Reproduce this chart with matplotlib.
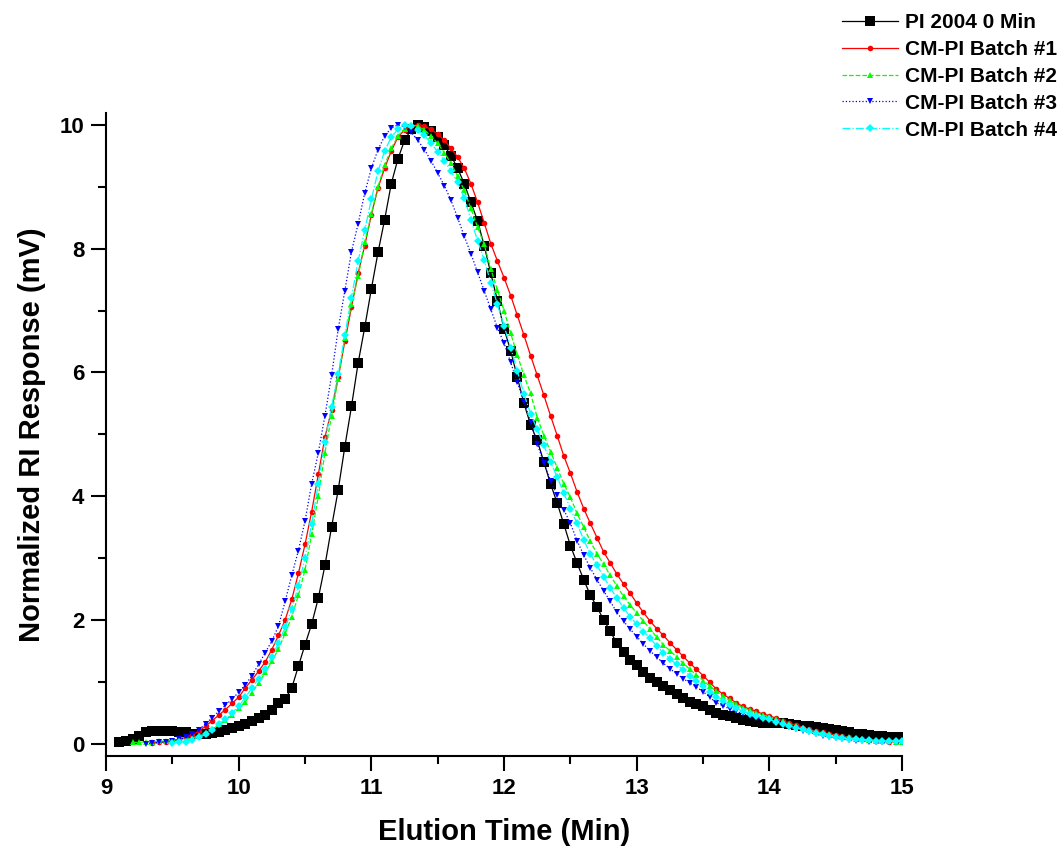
import numpy as np
import matplotlib.pyplot as plt
from matplotlib.ticker import MultipleLocator

plt.rcParams["font.family"] = ["Liberation Sans", "DejaVu Sans"]
plt.rcParams["font.weight"] = "bold"

nan = np.nan

# elution time grid (min), every 0.05 min
time_min = np.round(np.arange(9.1, 15.001, 0.05), 2)

# normalized RI response (mV)
pi_2004 = [
    # 9.10 - 10.00
    0.03, 0.05, 0.08, 0.13, 0.18, 0.2, 0.21, 0.2, 0.2, 0.19,
    0.18, 0.16, 0.15, 0.15, 0.17, 0.19, 0.22, 0.25, 0.28,
    # 10.05 - 13.00
    0.32, 0.36, 0.41, 0.47, 0.55, 0.65, 0.72, 0.9, 1.25, 1.6,
    1.93, 2.35, 2.88, 3.5, 4.1, 4.8, 5.45, 6.15, 6.73, 7.35,
    7.94, 8.47, 9.05, 9.45, 9.75, 9.93, 10.0, 9.97, 9.9, 9.8,
    9.67, 9.5, 9.3, 9.05, 8.75, 8.45, 8.05, 7.6, 7.16, 6.7,
    6.35, 5.92, 5.5, 5.15, 4.9, 4.55, 4.2, 3.89, 3.55, 3.2,
    2.92, 2.65, 2.4, 2.21, 2.0, 1.82, 1.62, 1.48, 1.35, 1.27,
    # 13.05 - 15.00
    1.16, 1.06, 0.99, 0.93, 0.86, 0.8, 0.74, 0.68, 0.64, 0.6,
    0.55, 0.5, 0.47, 0.44, 0.41, 0.38, 0.36, 0.35, 0.34, 0.34,
    0.33, 0.33, 0.31, 0.3, 0.29, 0.28, 0.27, 0.26, 0.24, 0.22,
    0.2, 0.18, 0.16, 0.15, 0.14, 0.13, 0.12, 0.11, 0.1, 0.1,
]
batch_1 = [
    nan, nan, nan, nan, nan, 0.01, 0.02, 0.03, 0.05, 0.07,
    0.1, 0.14, 0.2, 0.28, 0.37, 0.46, 0.55, 0.65, 0.75,
    0.9, 1.03, 1.17, 1.32, 1.52, 1.75, 2.0, 2.33, 2.75, 3.22,
    3.75, 4.35, 4.95, 5.4, 5.92, 6.5, 7.05, 7.6, 8.05, 8.55,
    8.98, 9.3, 9.58, 9.8, 9.92, 9.98, 10.0, 9.98, 9.93, 9.85,
    9.75, 9.62, 9.48, 9.3, 9.05, 8.75, 8.42, 8.08, 7.8, 7.53,
    7.24, 6.92, 6.6, 6.27, 5.95, 5.63, 5.3, 4.98, 4.65, 4.37,
    4.07, 3.8, 3.56, 3.33, 3.1, 2.92, 2.74, 2.58, 2.43, 2.27,
    2.12, 1.98, 1.86, 1.75, 1.63, 1.52, 1.41, 1.3, 1.2, 1.1,
    0.99, 0.88, 0.8, 0.73, 0.66, 0.6, 0.56, 0.52, 0.48, 0.45,
    0.41, 0.37, 0.33, 0.3, 0.26, 0.23, 0.2, 0.18, 0.16, 0.14,
    0.12, 0.1, 0.08, 0.07, 0.06, 0.05, 0.04, 0.03, 0.03, 0.02,
]
batch_2 = [
    nan, nan, 0.02, 0.02, 0.03, 0.03, 0.04, 0.04, 0.05, 0.06,
    0.07, 0.09, 0.12, 0.17, 0.24, 0.31, 0.38, 0.47, 0.57,
    0.68, 0.82, 0.98, 1.15, 1.33, 1.53, 1.78, 2.05, 2.4, 2.81,
    3.38, 4.0, 4.7, 5.3, 5.9, 6.55, 7.1, 7.55, 8.1, 8.56,
    9.0, 9.35, 9.62, 9.82, 9.94, 10.0, 9.98, 9.92, 9.82, 9.7,
    9.55, 9.38, 9.17, 8.94, 8.65, 8.35, 8.07, 7.67, 7.33, 7.0,
    6.63, 6.28, 5.95, 5.66, 5.27, 4.98, 4.72, 4.46, 4.2, 3.98,
    3.72, 3.5, 3.27, 3.07, 2.9, 2.72, 2.55, 2.38, 2.24, 2.11,
    1.98, 1.85, 1.72, 1.6, 1.5, 1.4, 1.3, 1.2, 1.11, 1.02,
    0.93, 0.85, 0.77, 0.7, 0.64, 0.58, 0.54, 0.5, 0.46, 0.43,
    0.39, 0.36, 0.32, 0.29, 0.25, 0.22, 0.19, 0.17, 0.15, 0.13,
    0.11, 0.1, 0.08, 0.07, 0.06, 0.05, 0.04, 0.04, 0.03, 0.03,
]
batch_3 = [
    nan, nan, nan, nan, 0.0, 0.01, 0.02, 0.03, 0.04, 0.07,
    0.1, 0.15, 0.22, 0.32, 0.42, 0.52, 0.62, 0.72, 0.83,
    0.95, 1.1, 1.28, 1.47, 1.66, 1.9, 2.3, 2.72, 3.12, 3.6,
    4.2, 4.7, 5.3, 5.95, 6.7, 7.32, 7.95, 8.4, 8.9, 9.3,
    9.6, 9.82, 9.95, 10.0, 9.97, 9.88, 9.75, 9.6, 9.42, 9.22,
    9.02, 8.78, 8.5, 8.2, 7.92, 7.62, 7.32, 7.02, 6.72, 6.47,
    6.16, 5.84, 5.52, 5.2, 4.85, 4.53, 4.25, 4.02, 3.78, 3.56,
    3.28, 3.05, 2.84, 2.65, 2.47, 2.3, 2.12, 1.98, 1.85, 1.73,
    1.61, 1.5, 1.4, 1.3, 1.21, 1.13, 1.05, 0.98, 0.91, 0.84,
    0.75, 0.66, 0.61, 0.56, 0.52, 0.48, 0.45, 0.42, 0.4, 0.38,
    0.34, 0.3, 0.27, 0.24, 0.21, 0.18, 0.15, 0.13, 0.11, 0.09,
    0.07, 0.06, 0.05, 0.04, 0.03, 0.03, 0.02, 0.02, 0.02, 0.02,
]
batch_4 = [
    nan, nan, nan, nan, nan, nan, nan, nan, 0.01, 0.02,
    0.03, 0.06, 0.1, 0.15, 0.22, 0.31, 0.4, 0.5, 0.6,
    0.75, 0.9, 1.05, 1.2, 1.4, 1.63, 1.88, 2.18, 2.55, 3.0,
    3.55, 4.2, 4.88, 5.44, 5.98, 6.6, 7.21, 7.8, 8.3, 8.8,
    9.25, 9.58, 9.8, 9.93, 10.0, 9.98, 9.92, 9.83, 9.7, 9.57,
    9.42, 9.25, 9.07, 8.82, 8.47, 8.13, 7.82, 7.45, 7.1, 6.75,
    6.4, 6.02, 5.65, 5.33, 5.08, 4.82, 4.55, 4.31, 4.05, 3.8,
    3.56, 3.29, 3.07, 2.88, 2.7, 2.52, 2.35, 2.2, 2.05, 1.93,
    1.81, 1.7, 1.58, 1.47, 1.37, 1.28, 1.19, 1.1, 1.01, 0.93,
    0.84, 0.76, 0.69, 0.62, 0.57, 0.52, 0.48, 0.45, 0.42, 0.39,
    0.35, 0.32, 0.29, 0.26, 0.23, 0.2, 0.17, 0.15, 0.13, 0.11,
    0.09, 0.08, 0.07, 0.06, 0.06, 0.05, 0.05, 0.04, 0.04, 0.04,
]

series_labels = [
    "PI 2004 0 Min",
    "CM-PI Batch #1",
    "CM-PI Batch #2",
    "CM-PI Batch #3",
    "CM-PI Batch #4",
]
series_values = [pi_2004, batch_1, batch_2, batch_3, batch_4]
series_colors = ["#000000", "#ff0000", "#00ff00", "#0000ff", "#00ffff"]
series_lines = ["-", "-", "--", ":", "-."]
series_markers = ["s", "o", "^", "v", "D"]
series_msize = [7.0, 4.0, 4.5, 5.0, 4.5]

fig = plt.figure(figsize=(10.63, 8.5), dpi=100)
ax = fig.add_axes([0.0997, 0.1106, 0.749, 0.757])

for vals, lab, col, ls, mk, ms in zip(
    series_values, series_labels, series_colors, series_lines, series_markers, series_msize
):
    ax.plot(
        time_min,
        vals,
        color=col,
        linestyle=ls,
        linewidth=0.9,
        marker=mk,
        markersize=ms,
        markeredgewidth=0,
        label=lab,
    )

ax.set_xlim(9, 15)
ax.set_ylim(-0.2, 10.2)
ax.xaxis.set_major_locator(MultipleLocator(1))
ax.xaxis.set_minor_locator(MultipleLocator(0.5))
ax.yaxis.set_major_locator(MultipleLocator(2))
ax.yaxis.set_minor_locator(MultipleLocator(1))

ax.spines["top"].set_visible(False)
ax.spines["right"].set_visible(False)
ax.spines["left"].set_linewidth(1.5)
ax.spines["bottom"].set_linewidth(1.5)
ax.tick_params(which="major", direction="out", length=10.5, width=1.5, labelsize=16, pad=5)
ax.tick_params(which="minor", direction="out", length=5.5, width=1.5)
for lbl in ax.get_xticklabels() + ax.get_yticklabels():
    lbl.set_fontweight("bold")

ax.set_xlabel("Elution Time (Min)", fontsize=21, fontweight="bold", labelpad=14)
ax.set_ylabel("Normalized RI Response (mV)", fontsize=21, fontweight="bold", labelpad=10)

ax.legend(
    loc="upper left",
    bbox_to_anchor=(842 / 1063, 1 - 13 / 850),
    bbox_transform=fig.transFigure,
    frameon=False,
    prop={"size": 15, "weight": "bold"},
    handlelength=2.69,
    handletextpad=0.34,
    labelspacing=0.38,
    borderpad=0,
    borderaxespad=0,
)

fig.savefig("out.png", dpi=100)
